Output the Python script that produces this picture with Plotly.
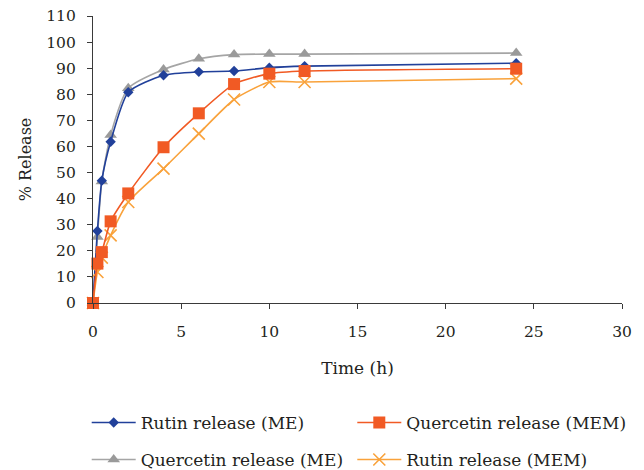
import plotly.graph_objects as go

time_h = [0, 0.25, 0.5, 1, 2, 4, 6, 8, 10, 12, 24]
rutin_me = [0, 27.6, 46.9, 61.8, 80.8, 87.3, 88.6, 88.9, 90.2, 90.8, 91.9]
quercetin_me = [0, 25.3, 46.6, 64.4, 82.3, 89.5, 93.6, 95.2, 95.4, 95.4, 95.8]
quercetin_mem = [0, 15.1, 19.5, 31.3, 42.0, 59.7, 72.7, 83.9, 87.9, 88.9, 89.8]
rutin_mem = [0, 11.9, 17.4, 25.9, 38.7, 51.5, 64.9, 78.0, 84.7, 84.7, 86.0]

FONT = "DejaVu Serif"
TXT = "#231F20"

# page body has an 8px default margin; figure is sized to fit the 644x470 window
W, H = 636, 462

fig = go.Figure()

fig.add_trace(go.Scatter(
    x=time_h, y=quercetin_me, name="Quercetin release (ME)", mode="lines+markers",
    line=dict(color="#A5A5A5", width=1.6, shape="spline", smoothing=0.6),
    marker=dict(symbol="triangle-up", size=11, color="#9A9A9A"),
    legend="legend3", cliponaxis=False))
fig.add_trace(go.Scatter(
    x=time_h, y=rutin_me, name="Rutin release (ME)", mode="lines+markers",
    line=dict(color="#21409A", width=1.6, shape="spline", smoothing=0.6),
    marker=dict(symbol="diamond", size=8, color="#21409A"),
    legend="legend", cliponaxis=False))
fig.add_trace(go.Scatter(
    x=time_h, y=rutin_mem, name="Rutin release (MEM)", mode="lines+markers",
    line=dict(color="#F9A23B", width=1.6, shape="spline", smoothing=0.6),
    marker=dict(symbol="x-thin-open", size=12, color="#F9A23B", line=dict(width=1.6, color="#F9A23B")),
    legend="legend4", cliponaxis=False))
fig.add_trace(go.Scatter(
    x=time_h, y=quercetin_mem, name="Quercetin release (MEM)", mode="lines+markers",
    line=dict(color="#F15A24", width=1.6, shape="spline", smoothing=0.6),
    marker=dict(symbol="square", size=12, color="#F15A24"),
    legend="legend2", cliponaxis=False))

axis_common = dict(
    showline=True, linecolor="#3A3A3A", linewidth=1.2,
    ticks="outside", ticklen=5, tickcolor="#3A3A3A", tickwidth=1.2,
    showgrid=False, zeroline=False, automargin=False,
    ticklabeloverflow="allow",
    tickfont=dict(family=FONT, size=15.5, color=TXT),
)

legend_common = dict(
    orientation="h", xref="container", yref="container",
    xanchor="left", yanchor="middle", itemwidth=44,
    font=dict(family=FONT, size=17, color=TXT), bgcolor="rgba(0,0,0,0)",
)

col1 = 78.7
col2 = col1 + 265.6
row1 = 423 - 8
row2 = 460 - 8

fig.update_layout(
    width=W, height=H,
    margin=dict(l=85, r=22, t=8, b=167),
    paper_bgcolor="white", plot_bgcolor="white",
    font=dict(family=FONT, size=16, color=TXT),
    xaxis=dict(range=[0, 30], dtick=5, tick0=0, ticklabelstandoff=9,
               title=dict(text="Time (h)", font=dict(family=FONT, size=17, color=TXT), standoff=22),
               **axis_common),
    yaxis=dict(range=[0, 110], dtick=10, tick0=0, ticklabelstandoff=8,
               title=dict(text="% Release", font=dict(family=FONT, size=16, color=TXT), standoff=10),
               **axis_common),
    legend=dict(x=col1 / W, y=(H - row1) / H, **legend_common),
    legend2=dict(x=col2 / W, y=(H - row1) / H, **legend_common),
    legend3=dict(x=col1 / W, y=(H - row2) / H, **legend_common),
    legend4=dict(x=col2 / W, y=(H - row2) / H, **legend_common),
    showlegend=True,
)

fig.write_html("out.html")
